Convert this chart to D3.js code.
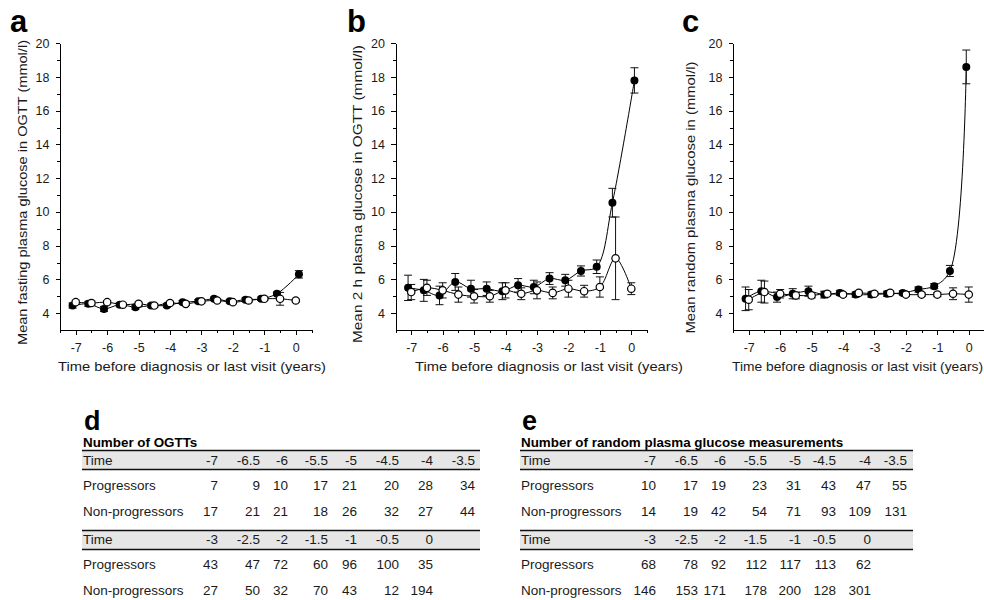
<!DOCTYPE html>
<html>
<head>
<meta charset="utf-8">
<script src="https://cdn.jsdelivr.net/npm/d3@7"></script>
<style>
  body { margin: 0; background: #fff; }
  svg { display: block; font-family: "Liberation Sans", Arial, Helvetica, sans-serif; }
  .axis path, .axis line { stroke: #000; stroke-width: 1; shape-rendering: crispEdges; }
  .axis text { font-size: 12.5px; fill: #1a1a1a; }
</style>
</head>
<body>
<script>
// time points (years before diagnosis / last visit)
const nonProgTimes = [-7, -6.5, -6, -5.5, -5, -4.5, -4, -3.5, -3, -2.5, -2, -1.5, -1, -0.5, 0];
const progTimesAB  = [-7.1, -6.6, -6.1, -5.6, -5.1, -4.6, -4.1, -3.6, -3.1, -2.6, -2.1, -1.6, -1.1, -0.6, 0.1];
const progTimesC   = [-7.1, -6.6, -6.1, -5.6, -5.1, -4.6, -4.1, -3.6, -3.1, -2.6, -2.1, -1.6, -1.1, -0.6, -0.08];

// a: fasting plasma glucose
const fastingProg     = [4.45, 4.55, 4.25, 4.5, 4.35, 4.45, 4.45, 4.65, 4.7, 4.85, 4.7, 4.8, 4.85, 5.15, 6.3];
const fastingProgErr  = [0.15, 0.15, 0.15, 0.12, 0.12, 0.1, 0.1, 0.1, 0.1, 0.1, 0.1, 0.1, 0.1, 0.1, 0.22];
const fastingNon      = [4.65, 4.6, 4.65, 4.5, 4.55, 4.45, 4.6, 4.55, 4.7, 4.75, 4.65, 4.75, 4.85, 4.85, 4.75];
const fastingNonErr   = [0.12, 0.12, 0.1, 0.1, 0.1, 0.1, 0.1, 0.08, 0.1, 0.08, 0.08, 0.08, 0.08, 0.38, 0.08];

// b: 2 h plasma glucose
const twoHourProg     = [5.5, 5.35, 5.05, 5.85, 5.45, 5.45, 5.3, 5.65, 5.55, 6.05, 5.95, 6.5, 6.75, 10.55, 17.8];
const twoHourProgErr  = [0.75, 0.65, 0.55, 0.5, 0.5, 0.4, 0.5, 0.4, 0.4, 0.35, 0.35, 0.3, 0.4, 0.85, 0.75];
const twoHourNon      = [5.25, 5.5, 5.35, 5.1, 5.0, 5.0, 5.35, 5.15, 5.35, 5.2, 5.45, 5.3, 5.55, 7.25, 5.45];
const twoHourNonErr   = [0.45, 0.45, 0.45, 0.45, 0.4, 0.35, 0.45, 0.35, 0.5, 0.35, 0.5, 0.35, 0.6, 2.45, 0.35];

// c: random plasma glucose
const randomProg      = [4.85, 5.3, 4.95, 5.15, 5.3, 5.1, 5.2, 5.1, 5.1, 5.15, 5.2, 5.4, 5.6, 6.5, 18.6];
const randomProgErr   = [0.7, 0.65, 0.3, 0.3, 0.3, 0.2, 0.15, 0.15, 0.15, 0.15, 0.12, 0.15, 0.15, 0.33, 1.0];
const randomNon       = [4.8, 5.25, 5.15, 5.05, 5.05, 5.15, 5.1, 5.2, 5.15, 5.2, 5.1, 5.1, 5.1, 5.15, 5.1];
const randomNonErr    = [0.6, 0.65, 0.25, 0.2, 0.15, 0.12, 0.12, 0.1, 0.1, 0.1, 0.1, 0.1, 0.12, 0.35, 0.45];

// tables d / e
const timesTop    = ["-7", "-6.5", "-6", "-5.5", "-5", "-4.5", "-4", "-3.5"];
const timesBottom = ["-3", "-2.5", "-2", "-1.5", "-1", "-0.5", "0"];
const ogttProgTop    = [7, 9, 10, 17, 21, 20, 28, 34];
const ogttNonTop     = [17, 21, 21, 18, 26, 32, 27, 44];
const ogttProgBottom = [43, 47, 72, 60, 96, 100, 35];
const ogttNonBottom  = [27, 50, 32, 70, 43, 12, 194];
const randProgTop    = [10, 17, 19, 23, 31, 43, 47, 55];
const randNonTop     = [14, 19, 42, 54, 71, 93, 109, 131];
const randProgBottom = [68, 78, 92, 112, 117, 113, 62];
const randNonBottom  = [146, 153, 171, 178, 200, 128, 301];

const svg = d3.select("body").append("svg")
  .attr("width", 984)
  .attr("height", 600);

const zip = (xs, ys, es) => xs.map((x, i) => ({ x: x, y: ys[i], e: es[i] }));

const panels = [
  { letter: "a", left: 60, letterX: 10,
    yTitle: "Mean fasting plasma glucose in OGTT (mmol/l)", yTitleX: 22, yTitleY: 192.5, yTitleLen: 305,
    xTitleX: 58, xTitleLen: 268,
    prog: zip(progTimesAB, fastingProg, fastingProgErr), non: zip(nonProgTimes, fastingNon, fastingNonErr) },
  { letter: "b", left: 395.5, letterX: 347,
    yTitle: "Mean 2 h plasma glucose in OGTT (mmol/l)", yTitleX: 357, yTitleY: 194, yTitleLen: 298,
    xTitleX: 415, xTitleLen: 268,
    prog: zip(progTimesAB, twoHourProg, twoHourProgErr), non: zip(nonProgTimes, twoHourNon, twoHourNonErr) },
  { letter: "c", left: 733, letterX: 682,
    yTitle: "Mean random plasma glucose in (mmol/l)", yTitleX: 690, yTitleY: 197.5, yTitleLen: 272,
    xTitleX: 732, xTitleLen: 251,
    prog: zip(progTimesC, randomProg, randomProgErr), non: zip(nonProgTimes, randomNon, randomNonErr) }
];

function drawPanel(p) {
  const g = svg.append("g");

  const scaleX = d3.scaleLinear().domain([-7.5, 0.5]).range([p.left, p.left + 251.5]);
  const scaleY = d3.scaleLinear().domain([3, 20]).range([330, 43.3]);

  const axisX = d3.axisBottom(scaleX)
    .tickValues(d3.range(-7.5, 0.51, 0.5))
    .tickFormat((d) => Number.isInteger(d) ? String(d) : "")
    .tickSize(4.5).tickSizeOuter(0).tickPadding(9);

  const axisY = d3.axisLeft(scaleY)
    .tickValues(d3.range(4, 21, 1))
    .tickFormat((d) => d % 2 === 0 ? String(d) : "")
    .tickSize(4.5).tickSizeOuter(0).tickPadding(6);

  const bottomAxis = g.append("g").attr("class", "axis")
    .attr("transform", `translate(0, 330)`)
    .call(axisX);
  bottomAxis.selectAll(".tick").filter((d) => !Number.isInteger(d)).select("line").attr("y2", 3);

  const leftAxis = g.append("g").attr("class", "axis")
    .attr("transform", `translate(${p.left}, 0)`)
    .call(axisY);
  leftAxis.selectAll(".tick").filter((d) => d % 2 !== 0).select("line").attr("x2", -3);

  // panel letter
  g.append("text")
    .attr("x", p.letterX).attr("y", 32)
    .style("font-size", "31px").style("font-weight", "bold")
    .text(p.letter);

  // axis titles
  g.append("text")
    .attr("transform", `translate(${p.yTitleX}, ${p.yTitleY}) rotate(-90)`)
    .attr("dy", "0.35em")
    .attr("text-anchor", "middle")
    .attr("textLength", p.yTitleLen).attr("lengthAdjust", "spacingAndGlyphs")
    .style("font-size", "13px").style("fill", "#1a1a1a")
    .text(p.yTitle);

  g.append("text")
    .attr("x", p.xTitleX).attr("y", 371)
    .attr("textLength", p.xTitleLen).attr("lengthAdjust", "spacingAndGlyphs")
    .style("font-size", "13px").style("fill", "#1a1a1a")
    .text("Time before diagnosis or last visit (years)");

  const line = d3.line()
    .x((d) => scaleX(d.x))
    .y((d) => scaleY(d.y))
    .curve(d3.curveCatmullRom.alpha(0.5));

  [p.prog, p.non].forEach((series) => {
    g.append("path")
      .attr("d", line(series))
      .attr("fill", "none")
      .attr("stroke", "#000")
      .attr("stroke-width", 1);
  });

  // error bars
  [p.prog, p.non].forEach((series) => {
    const bars = g.append("g").selectAll("g")
      .data(series)
      .enter().append("g")
      .attr("stroke", "#111").attr("stroke-width", 1);

    bars.append("line")
      .attr("x1", (d) => scaleX(d.x)).attr("x2", (d) => scaleX(d.x))
      .attr("y1", (d) => scaleY(d.y + d.e)).attr("y2", (d) => scaleY(d.y - d.e));
    bars.append("line")
      .attr("x1", (d) => scaleX(d.x) - 4).attr("x2", (d) => scaleX(d.x) + 4)
      .attr("y1", (d) => scaleY(d.y + d.e)).attr("y2", (d) => scaleY(d.y + d.e));
    bars.append("line")
      .attr("x1", (d) => scaleX(d.x) - 4).attr("x2", (d) => scaleX(d.x) + 4)
      .attr("y1", (d) => scaleY(d.y - d.e)).attr("y2", (d) => scaleY(d.y - d.e));
  });

  g.append("g").selectAll("circle")
    .data(p.prog)
    .enter().append("circle")
    .attr("cx", (d) => scaleX(d.x))
    .attr("cy", (d) => scaleY(d.y))
    .attr("r", 4)
    .attr("fill", "#000");

  g.append("g").selectAll("circle")
    .data(p.non)
    .enter().append("circle")
    .attr("cx", (d) => scaleX(d.x))
    .attr("cy", (d) => scaleY(d.y))
    .attr("r", 3.7)
    .attr("fill", "#fff")
    .attr("stroke", "#000")
    .attr("stroke-width", 1.2);
}

panels.forEach(drawPanel);

// count tables
const tables = [
  { letter: "d", left: 82, right: 480, title: "Number of OGTTs",
    cols: [218, 260, 288, 328, 357, 399, 433, 475],
    top: [ogttProgTop, ogttNonTop], bottom: [ogttProgBottom, ogttNonBottom] },
  { letter: "e", left: 520, right: 913, title: "Number of random plasma glucose measurements",
    cols: [656, 698, 726, 767, 801, 836, 871, 907],
    top: [randProgTop, randNonTop], bottom: [randProgBottom, randNonBottom] }
];

function drawTable(t) {
  const g = svg.append("g").style("font-size", "13.5px").style("fill", "#1a1a1a");

  g.append("text")
    .attr("x", t.left + 2).attr("y", 430)
    .style("font-size", "27px").style("font-weight", "bold").style("fill", "#000")
    .text(t.letter);

  g.append("text")
    .attr("x", t.left + 1).attr("y", 447)
    .style("font-size", "13.4px").style("font-weight", "bold").style("fill", "#000")
    .text(t.title);

  const blocks = [
    { times: timesTop, rows: t.top, band: 450.5, base: 465 },
    { times: timesBottom, rows: t.bottom, band: 530.5, base: 544 }
  ];

  blocks.forEach((b) => {
    g.append("rect")
      .attr("x", t.left).attr("y", b.band)
      .attr("width", t.right - t.left).attr("height", 19)
      .attr("fill", "#e6e6e6");
    [b.band, b.band + 19].forEach((y) => {
      g.append("line")
        .attr("x1", t.left).attr("x2", t.right)
        .attr("y1", y).attr("y2", y)
        .attr("stroke", "#111").attr("stroke-width", 1.3);
    });

    const rowLabels = ["Time", "Progressors", "Non-progressors"];
    const rowValues = [b.times, b.rows[0], b.rows[1]];
    const rowBase = [b.base, b.base + 25, b.base + 50.5];

    rowLabels.forEach((label, r) => {
      g.append("text")
        .attr("x", t.left + 1).attr("y", rowBase[r])
        .text(label);
      g.append("g").selectAll("text")
        .data(rowValues[r])
        .enter().append("text")
        .attr("x", (d, i) => t.cols[i])
        .attr("y", rowBase[r])
        .attr("text-anchor", "end")
        .text((d) => d);
    });
  });
}

tables.forEach(drawTable);
</script>
</body>
</html>
